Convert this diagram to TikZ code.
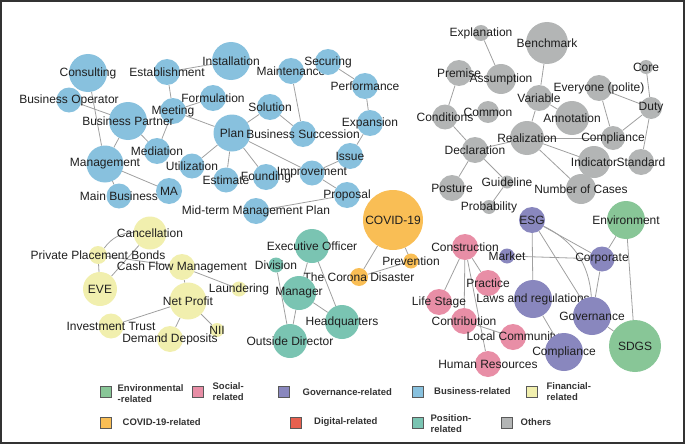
\documentclass[tikz,border=0pt]{standalone}
\usepackage{fontspec}
\setmainfont{Liberation Sans}
\usetikzlibrary{positioning,backgrounds}

\definecolor{cbiz}{RGB}{136,193,222}
\definecolor{cfin}{RGB}{241,239,174}
\definecolor{cpos}{RGB}{122,196,178}
\definecolor{ccov}{RGB}{249,190,85}
\definecolor{cgov}{RGB}{137,135,190}
\definecolor{csoc}{RGB}{232,142,166}
\definecolor{cenv}{RGB}{136,198,151}
\definecolor{cdig}{RGB}{231,96,79}
\definecolor{coth}{RGB}{179,181,181}
\definecolor{cedge}{RGB}{160,160,160}

\begin{document}
\begin{tikzpicture}[x=1pt,y=-1pt,
  kw/.style={circle, draw=none, inner sep=0pt, minimum size=#1},
  biz/.style={kw=#1, fill=cbiz},
  fin/.style={kw=#1, fill=cfin},
  pos/.style={kw=#1, fill=cpos},
  cov/.style={kw=#1, fill=ccov},
  gov/.style={kw=#1, fill=cgov},
  soc/.style={kw=#1, fill=csoc},
  env/.style={kw=#1, fill=cenv},
  oth/.style={kw=#1, fill=coth},
  every label/.style={font=\fontsize{12}{12}\selectfont, text=black!88, inner sep=0pt},
  edge/.style={draw=cedge, line width=0.8pt},
  legsq/.style={draw=black!65, line width=0.9pt, minimum size=11, inner sep=0pt},
  legtxt/.style={font=\fontsize{9.5}{11}\selectfont\bfseries, text=black!80, align=left, inner sep=0pt}]
  \useasboundingbox (0,0) rectangle (685,444);

  % Frame
  \draw[black!80, line width=1.6pt] (0.8,0.8) rectangle (684.2,443.2);

  % Business-related
  \node[biz=38, label=center:Consulting] (consulting) at (88,73) {};
  \node[biz=25, label=center:{Business Operator}] (bizop) at (69,100) {};
  \node[biz=26, label=center:Establishment] (establish) at (167,72) {};
  \node[biz=38, label=center:Installation] (install) at (231,61) {};
  \node[biz=26, label=center:Formulation] (formul) at (213,98) {};
  \node[biz=26, label=center:Meeting] (meeting) at (173,111) {};
  \node[biz=38, label=center:{Business Partner}] (bizpartner) at (128,121) {};
  \node[biz=26, label=center:Mediation] (mediation) at (157,151) {};
  \node[biz=37, label=center:Management] (management) at (105,164) {};
  \node[biz=25, label=center:{Main Business}] (mainbiz) at (119,196) {};
  \node[biz=26, label=center:MA] (ma) at (169,191) {};
  \node[biz=25, label=center:Utilization] (utiliz) at (192,166) {};
  \node[biz=37, label=center:Plan] (plan) at (232,133) {};
  \node[biz=25, label=center:Estimate] (estimate) at (226,180) {};
  \node[biz=26, label=center:Founding] (founding) at (266,177) {};
  \node[biz=26, label=center:Solution] (solution) at (270,107) {};
  \node[biz=26, label=center:Maintenance] (maint) at (291,71) {};
  \node[biz=26, label=center:Securing] (securing) at (328,62) {};
  \node[biz=26, label=center:{Business Succession}] (bizsucc) at (303,134) {};
  \node[biz=26, label=center:Performance] (perform) at (365,86) {};
  \node[biz=26, label=center:Expansion] (expansion) at (370,123) {};
  \node[biz=26, label=center:Issue] (issue) at (350,156) {};
  \node[biz=25, label=center:Improvement] (improve) at (312,173) {};
  \node[biz=26, label=center:Proposal] (proposal) at (347,195) {};
  \node[biz=26, label=center:{Mid-term Management Plan}] (midterm) at (256,211) {};

  % Others
  \node[oth=16, label=center:Explanation] (explan) at (481,33) {};
  \node[oth=42, label=center:Benchmark] (bench) at (547,43) {};
  \node[oth=26, label=center:Premise] (premise) at (459,73) {};
  \node[oth=30, label=center:Assumption] (assump) at (501,79) {};
  \node[oth=14, label=center:Core] (core) at (646,67) {};
  \node[oth=26, label=center:{Everyone (polite)}] (everyone) at (599,88) {};
  \node[oth=26, label=center:Variable] (variable) at (539,98) {};
  \node[oth=22, label=center:Duty] (duty) at (651,108) {};
  \node[oth=25, label=center:Conditions] (conditions) at (445,117) {};
  \node[oth=22, label=center:Common] (common) at (488,112) {};
  \node[oth=34, label=center:Annotation] (annot) at (572,118) {};
  \node[oth=34, label=center:Realization] (realiz) at (527,138) {};
  \node[oth=24, label=center:Compliance] (compl) at (613,138) {};
  \node[oth=26, label=center:Declaration] (declar) at (475,150) {};
  \node[oth=32, label=center:Indicator] (indicator) at (594,162) {};
  \node[oth=26, label=center:Standard] (standard) at (641,162) {};
  \node[oth=26, label=center:Posture] (posture) at (452,188) {};
  \node[oth=13, label=center:Guideline] (guide) at (507,182) {};
  \node[oth=30, label=center:{Number of Cases}] (numcases) at (581,189) {};
  \node[oth=14, label=center:Probability] (prob) at (489,207) {};

  % COVID-19-related
  \node[cov=60, label=center:COVID-19] (covid) at (393,220) {};
  \node[cov=15, label=center:Prevention] (prevent) at (411,261) {};
  \node[cov=18, label=center:{The Corona Disaster}] (corona) at (359,277) {};

  % Position-related
  \node[pos=34, label=center:{Executive Officer}] (exec) at (312,246) {};
  \node[pos=15, label=center:Division] (division) at (276,265) {};
  \node[pos=34, label=center:Manager] (manager) at (299,293) {};
  \node[pos=34, label=center:Headquarters] (hq) at (342,322) {};
  \node[pos=34, label=center:{Outside Director}] (outside) at (290,341) {};

  % Financial-related
  \node[fin=33, label=center:Cancellation] (cancel) at (150,233) {};
  \node[fin=18, label=center:{Private Placement Bonds}] (ppb) at (98,255) {};
  \node[fin=26, label=center:{Cash Flow Management}] (cashflow) at (182,267) {};
  \node[fin=34, label=center:EVE] (eve) at (100,289) {};
  \node[fin=15, label=center:Laundering] (launder) at (239,289) {};
  \node[fin=37, label=center:{Net Profit}] (netprofit) at (188,301) {};
  \node[fin=25, label=center:{Investment Trust}] (invest) at (111,326) {};
  \node[fin=14, label=center:NII] (nii) at (217,330) {};
  \node[fin=26, label=center:{Demand Deposits}] (demand) at (170,339) {};

  % Social-related
  \node[soc=26, label=center:Construction] (construction) at (465,247) {};
  \node[soc=26, label=center:Practice] (practice) at (488,283) {};
  \node[soc=26, label=center:{Life Stage}] (lifestage) at (439,302) {};
  \node[soc=26, label=center:Contribution] (contrib) at (464,321) {};
  \node[soc=26, label=center:{Local Community}] (localcom) at (513,337) {};
  \node[soc=26, label=center:{Human Resources}] (humanres) at (488,364) {};

  % Governance-related and Environmental-related
  \node[gov=26, label=center:ESG] (esg) at (532,220) {};
  \node[env=38, label=center:Environment] (environ) at (626,220) {};
  \node[gov=15, label=center:Market] (market) at (507,256) {};
  \node[gov=25, label=center:Corporate] (corporate) at (602,259) {};
  \node[gov=38, label=center:{Laws and regulations}] (laws) at (533,299) {};
  \node[gov=38, label=center:Governance] (governance) at (592,316) {};
  \node[gov=38, label=center:Compliance] (compl2) at (564,352) {};
  \node[env=52, label=center:SDGS] (sdgs) at (635,346) {};

  % Co-occurrence links
  \begin{pgfonlayer}{background}
    \draw[edge] (consulting) -- (management);
    \draw[edge] (bizop) -- (bizpartner);
    \draw[edge] (establish) -- (install);
    \draw[edge] (establish) -- (meeting);
    \draw[edge] (meeting) -- (formul);
    \draw[edge] (meeting) -- (plan);
    \draw[edge] (meeting) -- (mediation);
    \draw[edge] (bizpartner) -- (mediation);
    \draw[edge] (bizpartner) -- (management);
    \draw[edge] (management) -- (ma);
    \draw[edge] (management) -- (mainbiz);
    \draw[edge] (plan) -- (solution);
    \draw[edge] (plan) -- (utiliz);
    \draw[edge] (plan) -- (estimate);
    \draw[edge] (plan) -- (founding);
    \draw[edge] (plan) -- (improve);
    \draw[edge] (solution) -- (bizsucc);
    \draw[edge] (maint) -- (bizsucc);
    \draw[edge] (securing) -- (perform);
    \draw[edge] (perform) -- (expansion);
    \draw[edge] (expansion) -- (issue);
    \draw[edge] (issue) -- (improve);
    \draw[edge] (improve) -- (proposal);
    \draw[edge] (proposal) -- (midterm);

    \draw[edge] (explan) -- (assump);
    \draw[edge] (bench) -- (variable);
    \draw[edge] (premise) -- (conditions);
    \draw[edge] (variable) -- (annot);
    \draw[edge] (variable) -- (realiz);
    \draw[edge] (conditions) -- (declar);
    \draw[edge] (realiz) -- (declar);
    \draw[edge] (realiz) -- (compl);
    \draw[edge] (realiz) -- (indicator);
    \draw[edge] (realiz) -- (numcases);
    \draw[edge] (everyone) -- (compl);
    \draw[edge] (everyone) -- (duty);
    \draw[edge] (core) -- (duty);
    \draw[edge] (duty) -- (compl);
    \draw[edge] (duty) -- (standard);
    \draw[edge] (declar) -- (posture);
    \draw[edge] (declar) -- (guide);
    \draw[edge] (guide) -- (prob);

    \draw[edge] (covid) -- (corona);
    \draw[edge] (covid) -- (prevent);
    \draw[edge] (corona) -- (prevent);

    \draw[edge] (exec) -- (manager);
    \draw[edge] (exec) -- (hq);
    \draw[edge] (division) -- (outside);
    \draw[edge] (manager) -- (outside);
    \draw[edge] (manager) -- (hq);

    \draw[edge] (ppb) to[bend left=25] (cancel);
    \draw[edge] (cancel) -- (eve);
    \draw[edge] (ppb) -- (eve);
    \draw[edge] (ppb) -- (cashflow);
    \draw[edge] (cashflow) -- (launder);
    \draw[edge] (cashflow) -- (netprofit);
    \draw[edge] (netprofit) -- (invest);
    \draw[edge] (netprofit) -- (demand);
    \draw[edge] (netprofit) -- (nii);

    \draw[edge] (construction) -- (lifestage);
    \draw[edge] (construction) -- (contrib);
    \draw[edge] (construction) -- (practice);
    \draw[edge] (construction) -- (humanres);
    \draw[edge] (contrib) -- (localcom);

    \draw[edge] (esg) -- (corporate);
    \draw[edge] (esg) to[bend left=30] (governance);
    \draw[edge] (esg) -- (governance);
    \draw[edge] (esg) -- (laws);
    \draw[edge] (market) -- (corporate);
    \draw[edge] (corporate) -- (environ);
    \draw[edge] (corporate) -- (governance);
    \draw[edge] (environ) -- (sdgs);
    \draw[edge] (governance) -- (sdgs);
    \draw[edge] (laws) -- (compl2);
  \end{pgfonlayer}

  % Legend
  \node[legsq, fill=cenv] (lgenv) at (105.5,392) {};
  \node[legtxt, right=6pt of lgenv, yshift=-2pt] (lgenvt) {Environmental\\-related};
  \node[legsq, fill=csoc] (lgsoc) at (197.5,392) {};
  \node[legtxt, right=9pt of lgsoc] (lgsoct) {Social-\\related};
  \node[legsq, fill=cgov] (lggov) at (283.5,392) {};
  \node[legtxt, right=13pt of lggov] (lggovt) {Governance-related};
  \node[legsq, fill=cbiz] (lgbiz) at (418,391.5) {};
  \node[legtxt, right=10pt of lgbiz] (lgbizt) {Business-related};
  \node[legsq, fill=cfin] (lgfin) at (531.5,391.5) {};
  \node[legtxt, right=9pt of lgfin] (lgfint) {Financial-\\related};

  \node[legsq, fill=ccov] (lgcov) at (105.5,422.5) {};
  \node[legtxt, right=11pt of lgcov] (lgcovt) {COVID-19-related};
  \node[legsq, fill=cdig] (lgdig) at (296,422.5) {};
  \node[legtxt, right=12pt of lgdig] (lgdigt) {Digital-related};
  \node[legsq, fill=cpos] (lgpos) at (417.5,422.5) {};
  \node[legtxt, right=7pt of lgpos, yshift=-1pt] (lgpost) {Position-\\related};
  \node[legsq, fill=coth] (lgoth) at (506.5,422.5) {};
  \node[legtxt, right=8pt of lgoth] (lgotht) {Others};

\end{tikzpicture}
\end{document}
